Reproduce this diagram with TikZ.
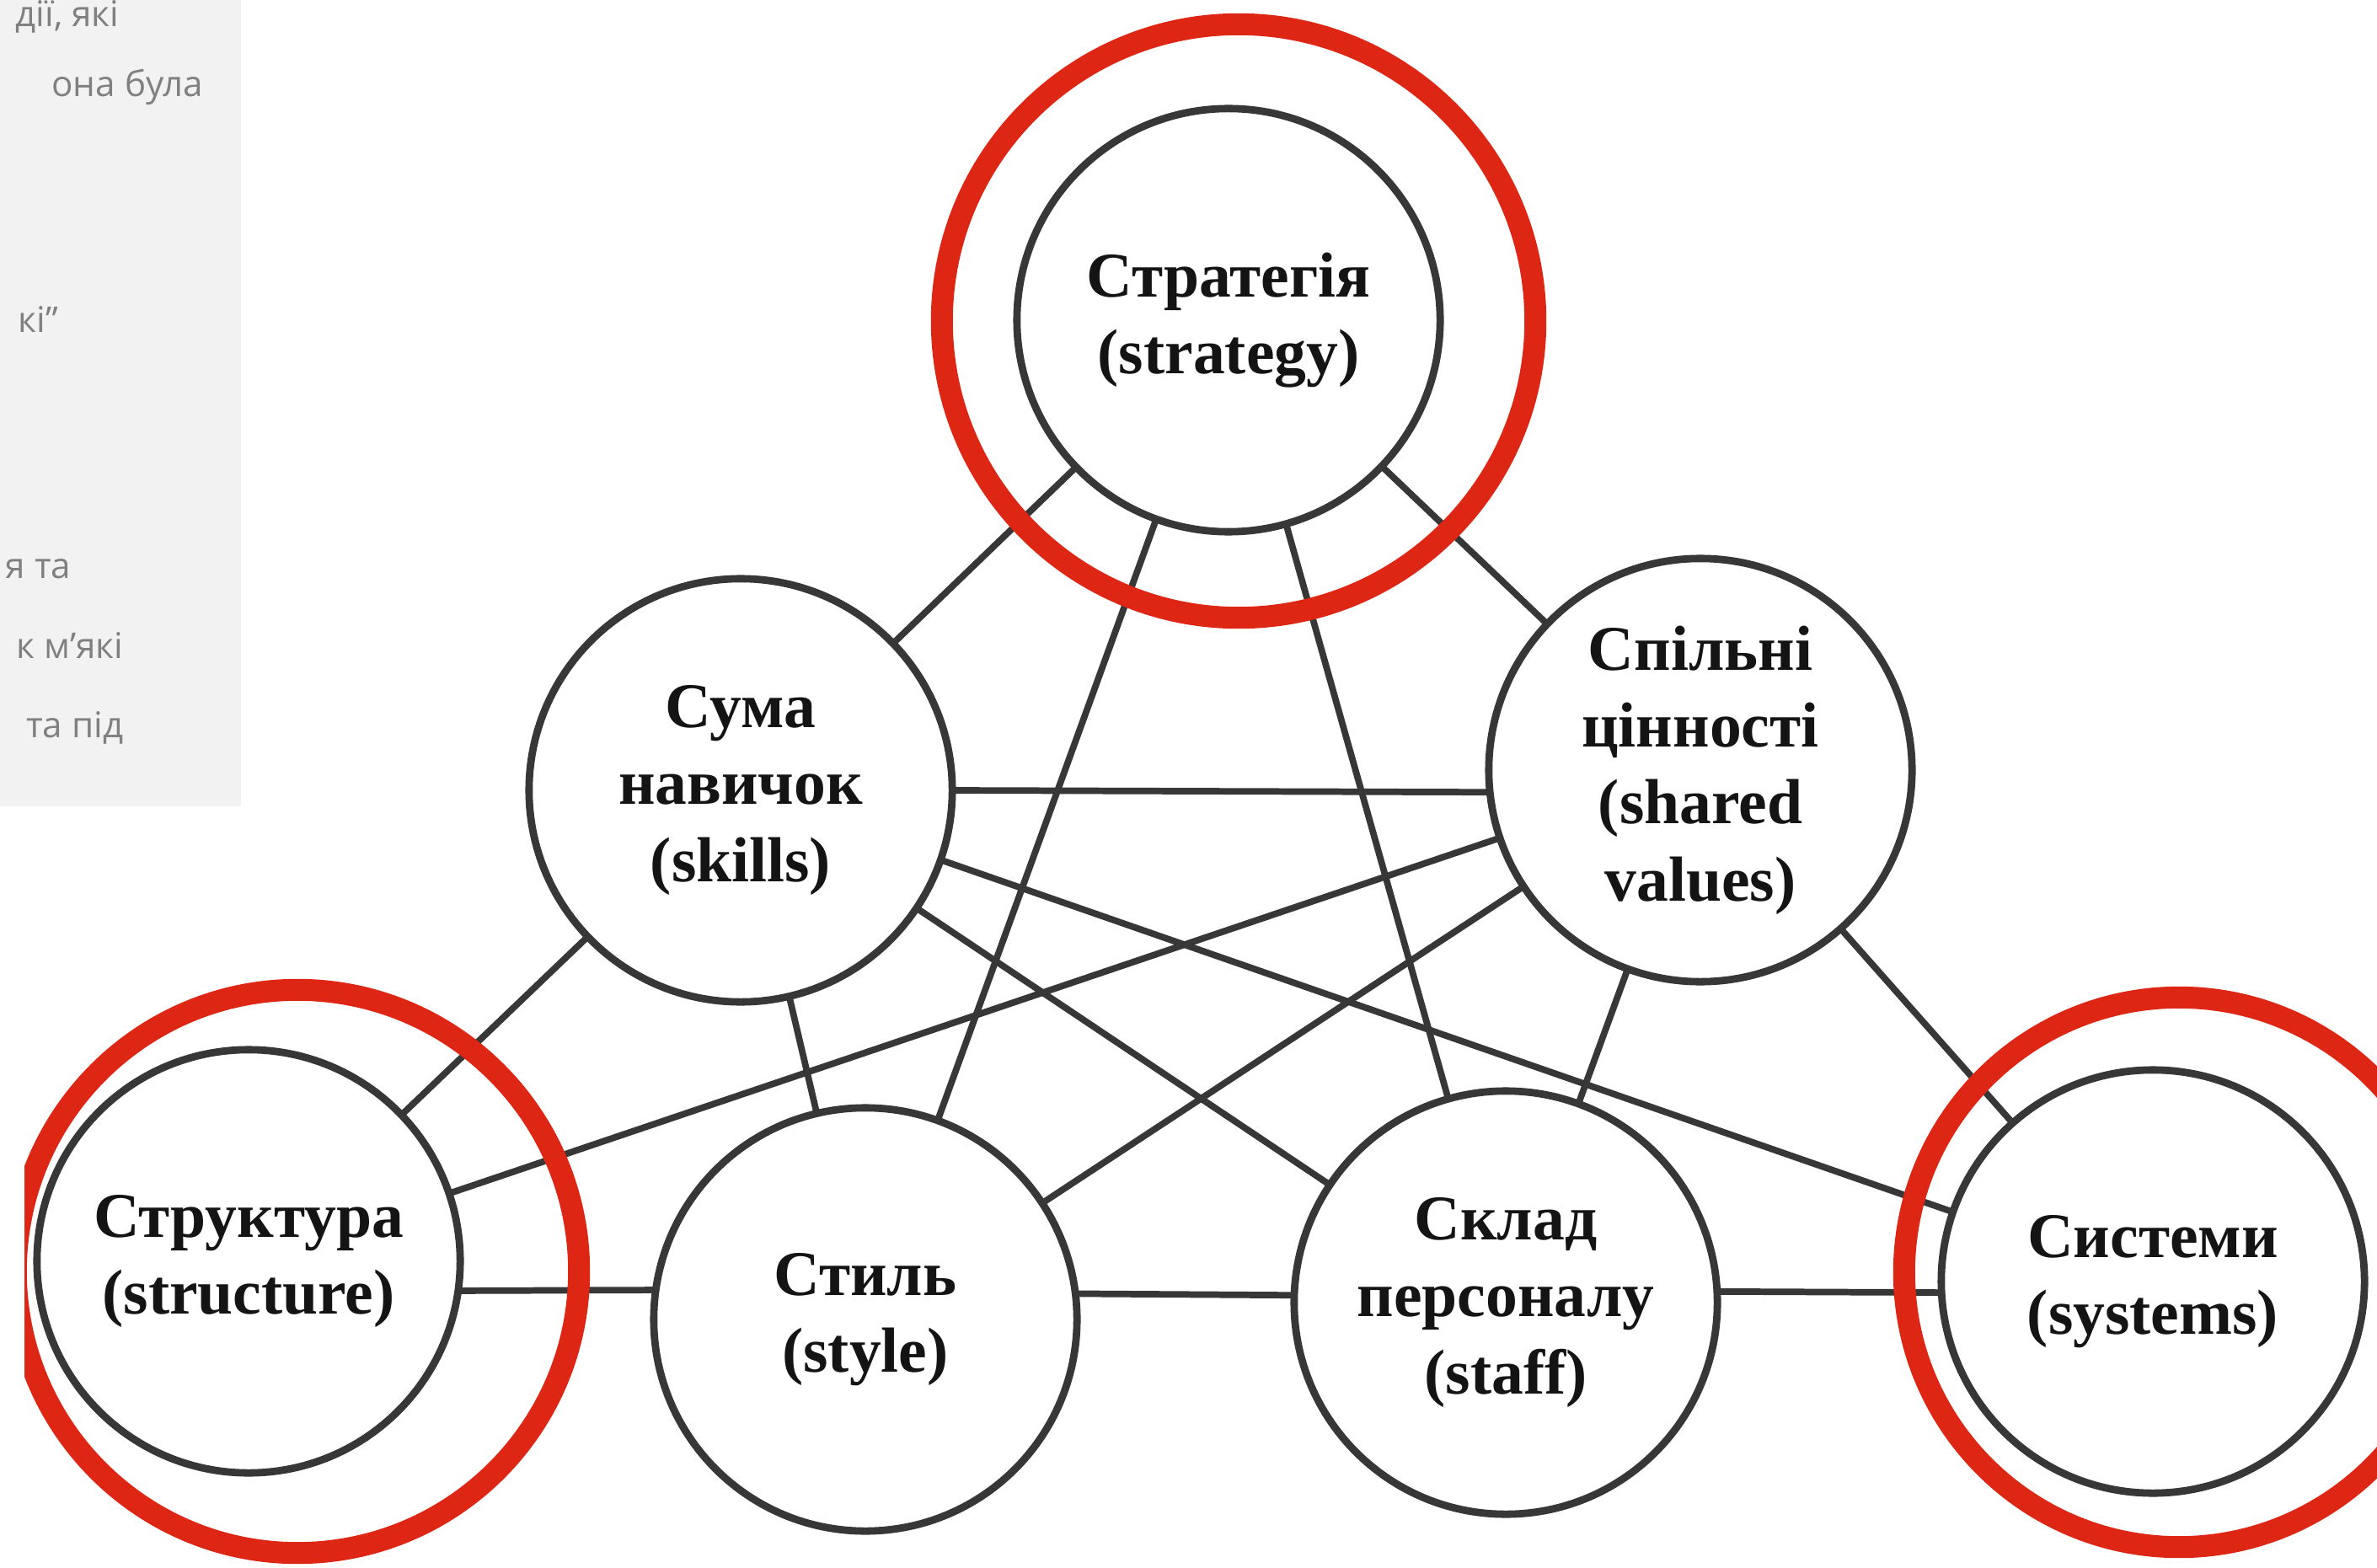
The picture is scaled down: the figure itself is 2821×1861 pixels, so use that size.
\documentclass[tikz,border=0pt]{standalone}
\usepackage{fontspec}
\setmainfont{Liberation Serif}
\newfontfamily\panelfont{Open Sans}
\definecolor{redring}{RGB}{222,38,20}
\definecolor{ink}{RGB}{55,55,55}
\definecolor{panelbg}{RGB}{242,242,242}
\definecolor{paneltext}{RGB}{128,128,128}
\begin{document}
\begin{tikzpicture}[x=0.01cm,y=-0.01cm,
  elem/.style={circle,draw=ink,line width=2.5pt,minimum size=5.02cm,inner sep=0pt,outer sep=0pt,
    align=center,font=\bfseries\fontsize{21.5}{26}\selectfont,text=black!92},
  link/.style={draw=ink,line width=2.2pt},
  ring/.style={draw=redring,line width=7.4pt},
  ptext/.style={anchor=base east,inner sep=0pt,font=\panelfont\fontsize{12}{14}\selectfont,text=paneltext}]
\useasboundingbox (0,0) rectangle (2821,1861);
\fill[white] (0,0) rectangle (2821,1861);
\fill[panelbg] (0,0) rectangle (286,957);
% panel text
\node[ptext] (p1) at (142,32) {дії, які};
\node[ptext] (p2) at (242,115) {она була};
\node[ptext] (p3) at (70,395) {кі”};
\node[ptext] (p4) at (85,686) {я та};
\node[ptext] (p5) at (147,781) {к м’які};
\node[ptext] (p6) at (147,875) {та під};
% elements
\node[elem] (S) at (1458,380) {Стратегія\\(strategy)};
\node[elem] (K) at (879,938) {Сума\\навичок\\(skills)};
\node[elem] (V) at (2018,914) {Спільні\\цінності\\(shared\\values)};
\node[elem] (T) at (295,1497) {Структура\\(structure)};
\node[elem] (Y) at (1027,1566) {Стиль\\(style)};
\node[elem] (F) at (1787,1546) {Склад\\персоналу\\(staff)};
\node[elem] (M) at (2555,1521) {Системи\\(systems)};
% connectors
\draw[link] (S) -- (K);
\draw[link] (S) -- (V);
\draw[link] (S) -- (Y);
\draw[link] (S) -- (F);
\draw[link] (K) -- (Y);
\draw[link] (K) -- (F);
\draw[link] (K) -- (M);
\draw[link] (K) -- (T);
\draw[link] (V) -- (M);
\draw[link] (V) -- (F);
\draw[link] (V) -- (Y);
\draw[link] (V) -- (T);
\draw[link] (K.0) -- (V.186);
\draw[link] (T.-8) -- (Y.172);
\draw[link] (Y.7) -- (F.178);
\draw[link] (F.3) -- (M.183);
% red highlight rings
\draw[ring] (1470,381) circle[radius=3.52cm];
\begin{scope}
\clip (29,0) rectangle (2821,1861);
\draw[ring] (353,1509) circle[radius=3.34cm];
\end{scope}
\draw[ring] (2586,1510) circle[radius=3.26cm];
\end{tikzpicture}
\end{document}
